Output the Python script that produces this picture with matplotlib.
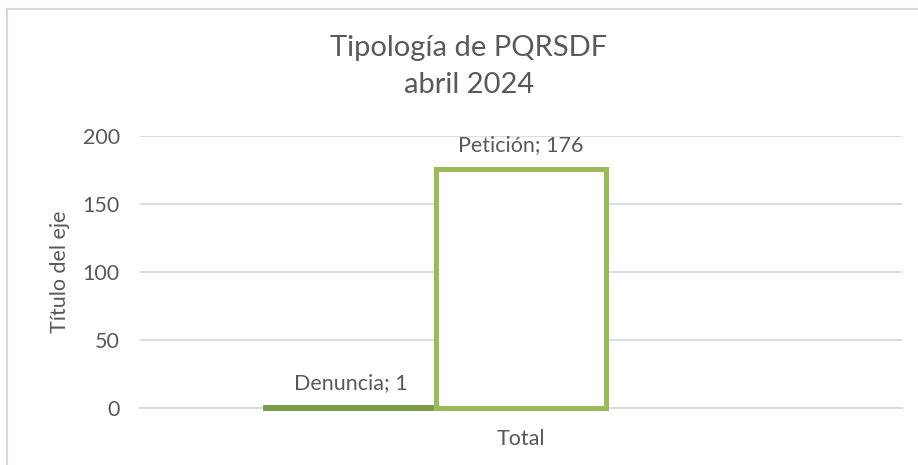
import matplotlib
matplotlib.use("Agg")
import matplotlib.pyplot as plt
from matplotlib.lines import Line2D

plt.rcParams['font.family'] = ['Lato', 'DejaVu Sans']

categories = ["Total"]
series_names = ["Denuncia", "Petición"]
series_values = [1, 176]
series_colors = ["#7D9C49", "#9BBB59"]
series_fill = ["#7D9C49", "white"]
yticks = [0, 50, 100, 150, 200]
title = "Tipología de PQRSDF\nabril 2024"
ylabel = "Título del eje"

W, H = 918, 465
fig = plt.figure(figsize=(W/100, H/100), dpi=100)
ax = fig.add_axes([140/W, (H-408)/H, 762/W, 272/H])

text_color = "#595959"
grid_color = "#D9D9D9"
fs = 15.5

bar_w = 0.2238
offsets = [-bar_w, 0.0]
for name, val, col, fc, off in zip(series_names, series_values, series_colors, series_fill, offsets):
    ax.bar(off, val, width=bar_w, facecolor=fc, edgecolor=col, linewidth=3.6,
           zorder=3, clip_on=False)
    ax.text(off, val + 17.5, f"{name}; {val}", ha="center", va="center",
            fontsize=fs, color=text_color, zorder=4)

ax.set_xlim(-0.5, 0.5)
ax.set_ylim(0, 200)
ax.set_yticks(yticks)
ax.set_xticks([0])
ax.set_xticklabels(categories)
ax.tick_params(axis="both", length=0, labelsize=fs, colors=text_color)
ax.tick_params(axis="y", pad=14.5)
ax.tick_params(axis="x", pad=15)
ax.grid(axis="y", color=grid_color, linewidth=1.3, zorder=0)
ax.set_axisbelow(True)
for s in ["top", "right", "left"]:
    ax.spines[s].set_visible(False)
ax.spines["bottom"].set_color(grid_color)
ax.spines["bottom"].set_linewidth(1.3)
ax.spines["bottom"].set_zorder(0)
ax.set_ylabel(ylabel, fontsize=fs, color=text_color)
ax.yaxis.set_label_coords((70 - 140)/762, 0.5)

fig.text(469/W, 1 - 66.5/H, title, ha="center", va="center", fontsize=21,
         color=text_color, linespacing=1.52)

# chart border
fig.add_artist(Line2D([6.5/W, 1.0], [1 - 9.5/H, 1 - 9.5/H], color=grid_color, linewidth=1.5, transform=fig.transFigure))
fig.add_artist(Line2D([6.5/W, 6.5/W], [1 - 9.5/H, 0], color=grid_color, linewidth=1.5, transform=fig.transFigure))

fig.savefig("out.png", dpi=100)
